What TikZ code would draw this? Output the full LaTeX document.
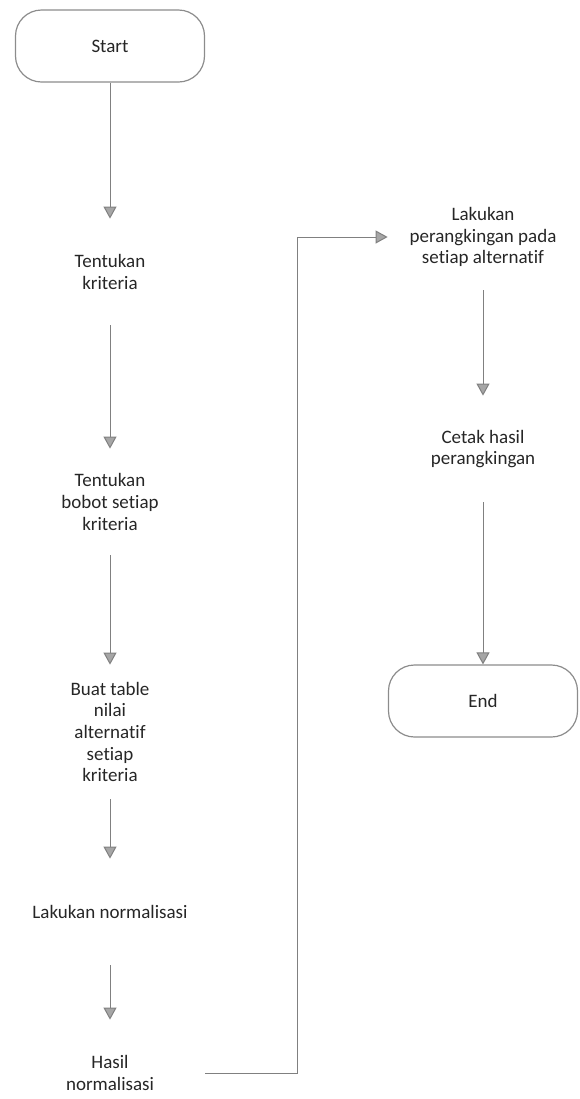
\documentclass[tikz,border=0pt]{standalone}
\usepackage{fontspec}
\setmainfont{Carlito}[Ligatures={NoCommon}]
\usetikzlibrary{positioning, arrows.meta}

\begin{document}
\begin{tikzpicture}[node distance=1cm, on grid, auto, font=\fontsize{9.5}{10.8}\selectfont]
      \tikzstyle{term}=[draw=black!45, line width=0.6pt, rounded corners=13pt, minimum width=94.5pt, minimum height=36pt, text=black!85]
      \tikzstyle{proc}=[minimum width=95pt, minimum height=53pt, inner sep=0pt, align=center, text=black!85]
      \tikzstyle{flow}=[draw=black!50, line width=0.5pt, -{Triangle[width=6.5pt, length=6pt, fill=black!35]}]

      \useasboundingbox (0pt,0pt) rectangle (289.5pt,-549.5pt);

      % Nodes
      \node[term]                   (start) at (55pt,-23pt) {Start};
      \node[proc]                   (krit)  [below=113pt of start] {Tentukan\\kriteria};
      \node[proc]                   (bobot) [below=115pt of krit] {Tentukan\\bobot setiap\\kriteria};
      \node[proc, minimum height=67pt] (tabel) [below=115pt of bobot] {Buat table\\nilai\\alternatif\\setiap\\kriteria};
      \node[proc]                   (norm)  [below=90pt of tabel] {Lakukan normalisasi};
      \node[proc]                   (hasil) [below=80.5pt of norm] {Hasil\\normalisasi};
      \node[proc]                   (rank)  at (241.5pt,-118.5pt) {Lakukan\\perangkingan pada\\setiap alternatif};
      \node[proc]                   (cetak) [below=106pt of rank] {Cetak hasil\\perangkingan};
      \node[term]                   (end)   [below=126pt of cetak] {End};

      % Edges
      \path[flow]
        (start) edge (krit)
        (krit)  edge (bobot)
        (bobot) edge (tabel)
        (tabel) edge (norm)
        (norm)  edge (hasil)
        (rank)  edge (cetak)
        (cetak) edge (end);
      \draw[flow] (hasil.east) -- ++(46pt,0pt) |- (rank.west);
    \end{tikzpicture}
\end{document}
